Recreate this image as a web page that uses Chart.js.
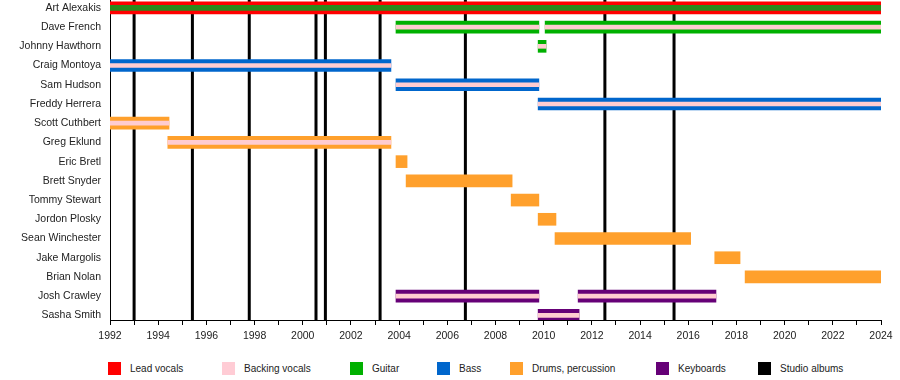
<!DOCTYPE html>
<html>
<head>
<meta charset="utf-8">
<script src="https://cdn.jsdelivr.net/npm/chart.js@4"></script>
<style>
  html, body { margin: 0; padding: 0; background: #fff; }
  #wrap { position: relative; width: 900px; height: 380px; }
  #chart { position: absolute; left: 0; top: 0; }
  .item { position: absolute; top: 362px; height: 13px; display: flex; align-items: center;
          font: 10px 'Liberation Sans', Arial, sans-serif; color: #222; white-space: nowrap; }
  .item .box { width: 13px; height: 13px; margin-right: 9px; }
</style>
</head>
<body>
<div id="wrap">
  <canvas id="chart" width="900" height="350"></canvas>
  <div id="legend"></div>
</div>
<script>
// Band members, top to bottom
const members = [
  'Art Alexakis', 'Dave French', 'Johnny Hawthorn', 'Craig Montoya', 'Sam Hudson',
  'Freddy Herrera', 'Scott Cuthbert', 'Greg Eklund', 'Eric Bretl', 'Brett Snyder',
  'Tommy Stewart', 'Jordon Plosky', 'Sean Winchester', 'Jake Margolis', 'Brian Nolan',
  'Josh Crawley', 'Sasha Smith'
];

// [member, from, to] in decimal years
const leadVocals = [['Art Alexakis', 1992, 2024]];
const guitar = [
  ['Dave French', 2003.87, 2009.8],
  ['Dave French', 2010.06, 2024],
  ['Johnny Hawthorn', 2009.77, 2010.1]
];
const bass = [
  ['Craig Montoya', 1992, 2003.66],
  ['Sam Hudson', 2003.87, 2009.8],
  ['Freddy Herrera', 2009.77, 2024]
];
const drums = [
  ['Scott Cuthbert', 1992, 1994.45],
  ['Greg Eklund', 1994.4, 2003.66],
  ['Eric Bretl', 2003.87, 2004.33],
  ['Brett Snyder', 2004.29, 2008.69],
  ['Tommy Stewart', 2008.65, 2009.8],
  ['Jordon Plosky', 2009.77, 2010.51],
  ['Sean Winchester', 2010.47, 2016.1],
  ['Jake Margolis', 2017.1, 2018.15],
  ['Brian Nolan', 2018.36, 2024]
];
const keyboards = [
  ['Josh Crawley', 2003.87, 2009.8],
  ['Josh Crawley', 2011.43, 2017.15],
  ['Sasha Smith', 2009.77, 2011.47]
];
// secondary roles (thin stripe inside the main bar)
const backingVocals = [
  ['Dave French', 2003.87, 2009.8],
  ['Dave French', 2010.06, 2024],
  ['Johnny Hawthorn', 2009.77, 2010.1],
  ['Craig Montoya', 1992, 2003.66],
  ['Sam Hudson', 2003.87, 2009.8],
  ['Freddy Herrera', 2009.77, 2024],
  ['Scott Cuthbert', 1992, 1994.45],
  ['Greg Eklund', 1994.4, 2003.66],
  ['Josh Crawley', 2003.87, 2009.8],
  ['Josh Crawley', 2011.43, 2017.15],
  ['Sasha Smith', 2009.77, 2011.47]
];
const secondGuitar = [['Art Alexakis', 1992, 2024]];

// studio album release dates
const albums = [1993.0, 1995.42, 1997.78, 2000.55, 2000.94, 2003.21, 2006.75, 2012.54, 2015.41];

const legendItems = [
  ['Lead vocals', '#ff0000'],
  ['Backing vocals', '#ffccd5'],
  ['Guitar', '#00b000'],
  ['Bass', '#0066cc'],
  ['Drums, percussion', '#ffa02c'],
  ['Keyboards', '#660077'],
  ['Studio albums', '#000000']
];
const legendLeft = [108, 222, 350, 437, 510, 656, 758];

const yTop = -0.41, yBottom = 16.24;
const font = { family: "'Liberation Sans', Arial, sans-serif", size: 10.5 };

const toBars = spans => spans.map(([who, from, to]) => ({ y: members.indexOf(who), x: [from, to] }));

function barSet(label, spans, color, thickness, order) {
  return {
    type: 'bar', label, data: toBars(spans), indexAxis: 'y',
    backgroundColor: color, barThickness: thickness, grouped: false,
    borderWidth: 0, borderSkipped: false, order
  };
}

const datasets = [
  barSet('Lead vocals', leadVocals, '#ff0000', 12, 5),
  barSet('Guitar', guitar, '#00b000', 12, 5),
  barSet('Bass', bass, '#0066cc', 12, 5),
  barSet('Drums, percussion', drums, '#ffa02c', 12, 5),
  barSet('Keyboards', keyboards, '#660077', 12, 5),
  barSet('Backing vocals', backingVocals, '#ffccd0', 4, 1),
  barSet('Guitar (2nd)', secondGuitar, '#2a8a1c', 5, 1)
];
albums.forEach(a => {
  datasets.push({
    type: 'line', label: 'Studio album', indexAxis: 'x',
    data: [{ x: a, y: yTop }, { x: a, y: yBottom }],
    borderColor: '#000', borderWidth: 3, pointRadius: 0, fill: false, order: 10
  });
});

new Chart(document.getElementById('chart'), {
  type: 'bar',
  data: { datasets },
  options: {
    responsive: false,
    animation: false,
    devicePixelRatio: 1,
    layout: { padding: { left: 0, right: 19, top: 0, bottom: 0 } },
    plugins: { legend: { display: false }, tooltip: { enabled: false } },
    scales: {
      x: {
        type: 'linear', position: 'bottom', min: 1992, max: 2024, offset: false,
        ticks: {
          stepSize: 1, autoSkip: false, maxRotation: 0, padding: 5, font, color: '#222',
          callback: v => (Math.round(v) % 2 === 0 ? String(Math.round(v)) : '')
        },
        grid: { offset: false, drawOnChartArea: false, drawTicks: true, tickLength: 5, color: '#000' },
        border: { display: true, color: '#000', width: 1 },
        afterFit: s => { s.height = 30; s.paddingLeft = 0; s.paddingRight = 0; }
      },
      y: {
        type: 'linear', position: 'left', reverse: true, min: yTop, max: yBottom, offset: false,
        afterBuildTicks: s => { s.ticks = members.map((m, i) => ({ value: i })); },
        ticks: { autoSkip: false, padding: 9, font, color: '#222', callback: v => members[v] },
        grid: { offset: false, display: false, drawTicks: false },
        border: { display: true, color: '#000', width: 1 },
        afterFit: s => { s.width = 110; s.paddingTop = 0; s.paddingBottom = 0; }
      }
    }
  }
});

// legend
const legend = document.getElementById('legend');
legendItems.forEach(([text, color], i) => {
  const el = document.createElement('div');
  el.className = 'item';
  el.style.left = legendLeft[i] + 'px';
  el.innerHTML = `<span class="box" style="background:${color}"></span>${text}`;
  legend.appendChild(el);
});
</script>
</body>
</html>
